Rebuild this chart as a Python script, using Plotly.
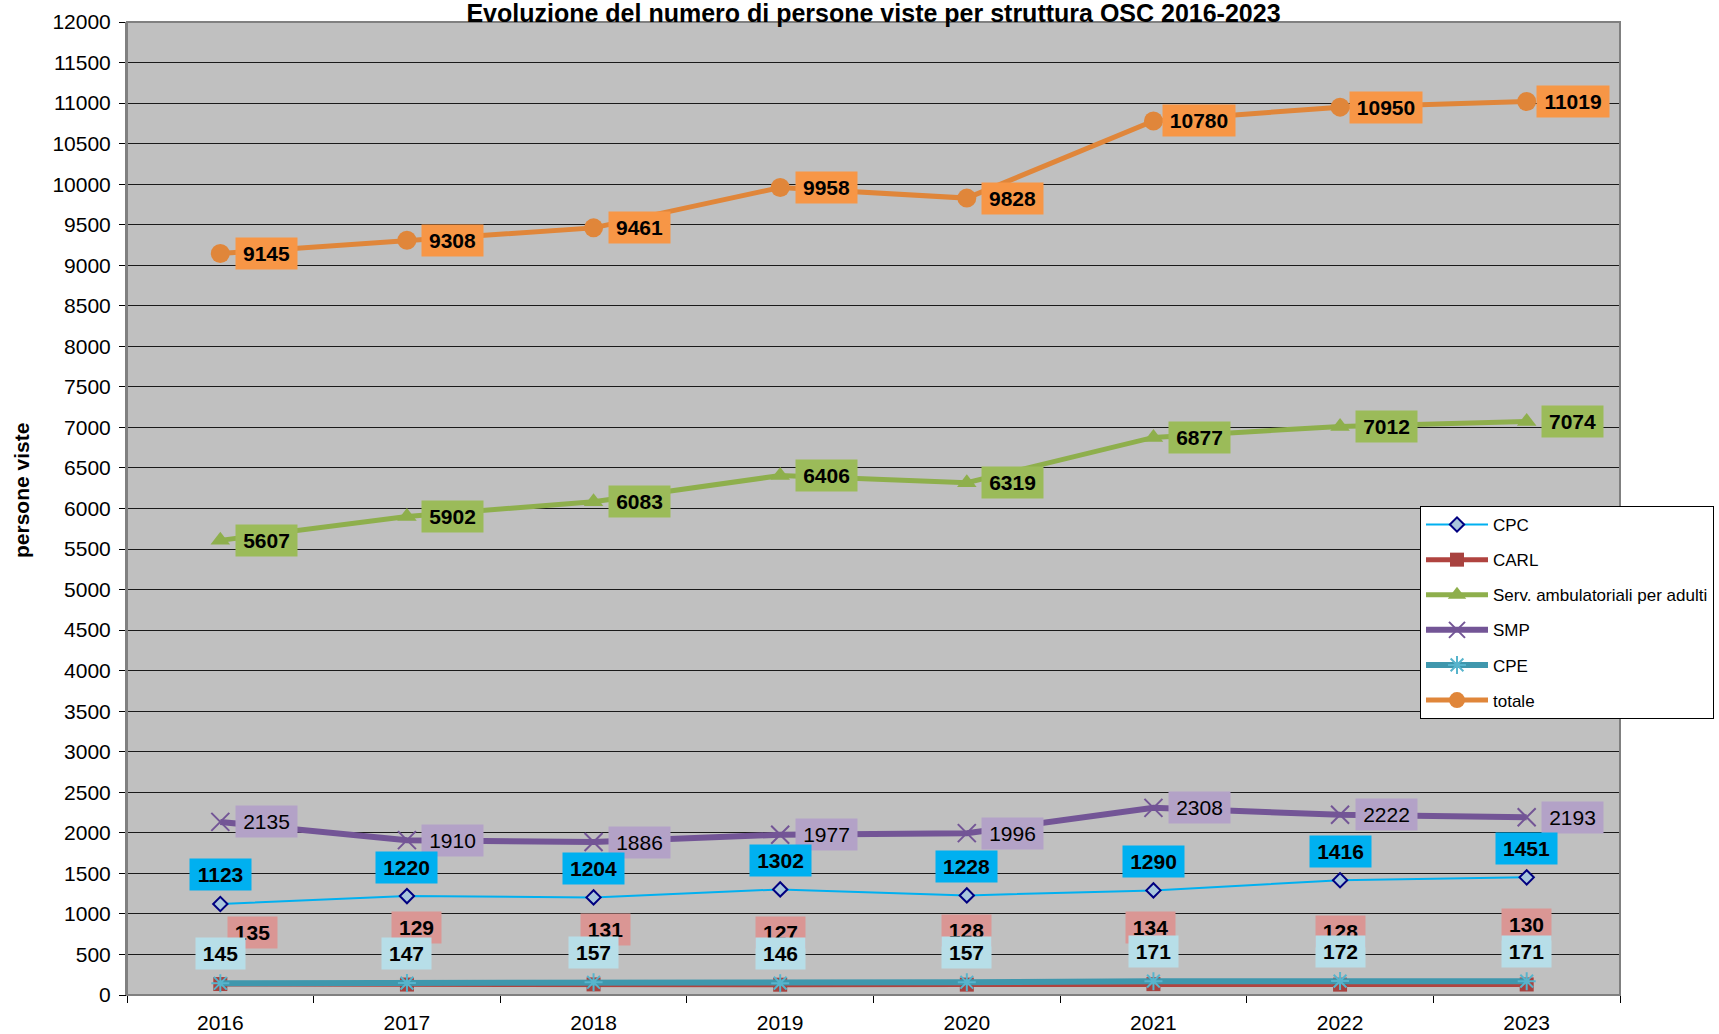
import plotly.graph_objects as go

# ---- data ----
years = ["2016", "2017", "2018", "2019", "2020", "2021", "2022", "2023"]
cpc = [1123, 1220, 1204, 1302, 1228, 1290, 1416, 1451]
carl = [135, 129, 131, 127, 128, 134, 128, 130]
serv = [5607, 5902, 6083, 6406, 6319, 6877, 7012, 7074]
smp = [2135, 1910, 1886, 1977, 1996, 2308, 2222, 2193]
cpe = [145, 147, 157, 146, 157, 171, 172, 171]
totale = [9145, 9308, 9461, 9958, 9828, 10780, 10950, 11019]
series_names = ["CPC", "CARL", "Serv. ambulatoriali per adulti", "SMP", "CPE", "totale"]
title_text = "Evoluzione del numero di persone viste per struttura OSC 2016-2023"
y_title = "persone viste"

FONT = "Liberation Sans, Arial, sans-serif"

fig = go.Figure()

styles = [
    dict(line=dict(color="#00B0F0", width=2),
         marker=dict(symbol="diamond", size=11, color="#A9C6DC", line=dict(color="#000080", width=2))),
    dict(line=dict(color="#B0433F", width=5),
         marker=dict(symbol="square", size=14, color="#A8423F", line=dict(width=0))),
    dict(line=dict(color="#8EAF4C", width=5),
         marker=dict(symbol="triangle-up", size=17, color="#8EAF4C", line=dict(width=0))),
    dict(line=dict(color="#735596", width=6),
         marker=dict(symbol="x-thin-open", size=18, color="#735596", line=dict(color="#735596", width=2))),
    dict(line=dict(color="#3F97AD", width=6),
         marker=dict(symbol="asterisk-open", size=15, color="#57B4CC", line=dict(color="#57B4CC", width=2))),
    dict(line=dict(color="#E0863A", width=5),
         marker=dict(symbol="circle", size=19, color="#E0863A", line=dict(width=0))),
]
all_series = [cpc, carl, serv, smp, cpe, totale]

for i, (name, vals, st) in enumerate(zip(series_names, all_series, styles)):
    fig.add_trace(go.Scatter(
        x=years, y=vals, name=name, mode="lines+markers",
        line=st["line"], marker=st["marker"], legendgroup=f"g{i}",
        hoverinfo="skip"))

# ---- data labels ----
def add_labels(vals, bg, bold=True, xshifts=None, yshifts=None):
    for j, v in enumerate(vals):
        txt = str(v)
        w = int(round(len(txt) * 11.7 + 8))
        fig.add_annotation(
            x=j, y=v, xref="x", yref="y", text=f"<b>{txt}</b>" if bold else txt,
            showarrow=False, bgcolor=bg, borderpad=3, width=w, height=25,
            font=dict(family=FONT, size=21, color="black"),
            xshift=xshifts[j] if xshifts else 0,
            yshift=yshifts[j] if yshifts else 0)

n = len(years)
add_labels(totale, "#F79646", True, [46] * n, [0] * n)
add_labels(serv, "#9BBB59", True, [46] * n, [0] * n)
add_labels(smp, "#B3A2C7", False, [46] * n, [0] * n)
add_labels(cpc, "#00B0F0", True, [0] * n, [29] * n)
add_labels(carl, "#DA9694", True, [32, 10, 12, 0, 0, -3, 0, 0], [52, 57, 55, 52, 54, 57, 53, 60])
add_labels(cpe, "#B7DEE8", True, [0] * n, [30] * n)

# y-axis title
fig.add_annotation(
    xref="paper", yref="paper", x=(21 - 127) / 1493, y=(995 - 491) / 973,
    text=f"<b>{y_title}</b>", textangle=-90, showarrow=False,
    font=dict(family=FONT, size=21, color="black"), xanchor="center", yanchor="middle")

# plot frame
fig.add_shape(type="rect", xref="paper", yref="paper", x0=0, x1=1, y0=0, y1=1,
              line=dict(color="#808080", width=2), layer="above")

fig.update_layout(
    width=1719, height=1034,
    margin=dict(l=127, r=99, t=22, b=39, autoexpand=False),
    paper_bgcolor="white", plot_bgcolor="#C0C0C0",
    font=dict(family=FONT, color="black"),
    title=dict(text=f"<b>{title_text}</b>", x=0.5, xref="paper", y=1 - 13 / 1034,
               yref="container", yanchor="middle", xanchor="center",
               font=dict(family=FONT, size=25, color="black")),
    showlegend=True,
    legend=dict(x=(1420 - 127) / 1493, y=(995 - 506) / 973, xanchor="left", yanchor="top",
                bgcolor="white", bordercolor="black", borderwidth=1,
                font=dict(family=FONT, size=17, color="black"),
                traceorder="grouped", tracegroupgap=10, itemwidth=62),
    xaxis=dict(type="category", tickson="boundaries", ticks="outside", ticklen=7,
               tickcolor="black", tickwidth=1, showgrid=False, showline=True,
               linecolor="black", linewidth=1, ticklabelstandoff=9,
               tickfont=dict(family=FONT, size=21, color="black"),
               range=[-0.5, 7.5]),
    yaxis=dict(range=[0, 12000], dtick=500, tick0=0, tickformat="d", ticks="outside", ticklen=6,
               tickcolor="black", showgrid=True, gridcolor="#1a1a1a", gridwidth=1,
               showline=True, linecolor="#808080", linewidth=2, zeroline=False,
               ticklabelstandoff=4,
               tickfont=dict(family=FONT, size=21, color="black")),
)

fig.write_html("out.html", config={"displayModeBar": False},
               post_script="document.body.style.margin='0px';document.body.style.overflow='hidden';")
